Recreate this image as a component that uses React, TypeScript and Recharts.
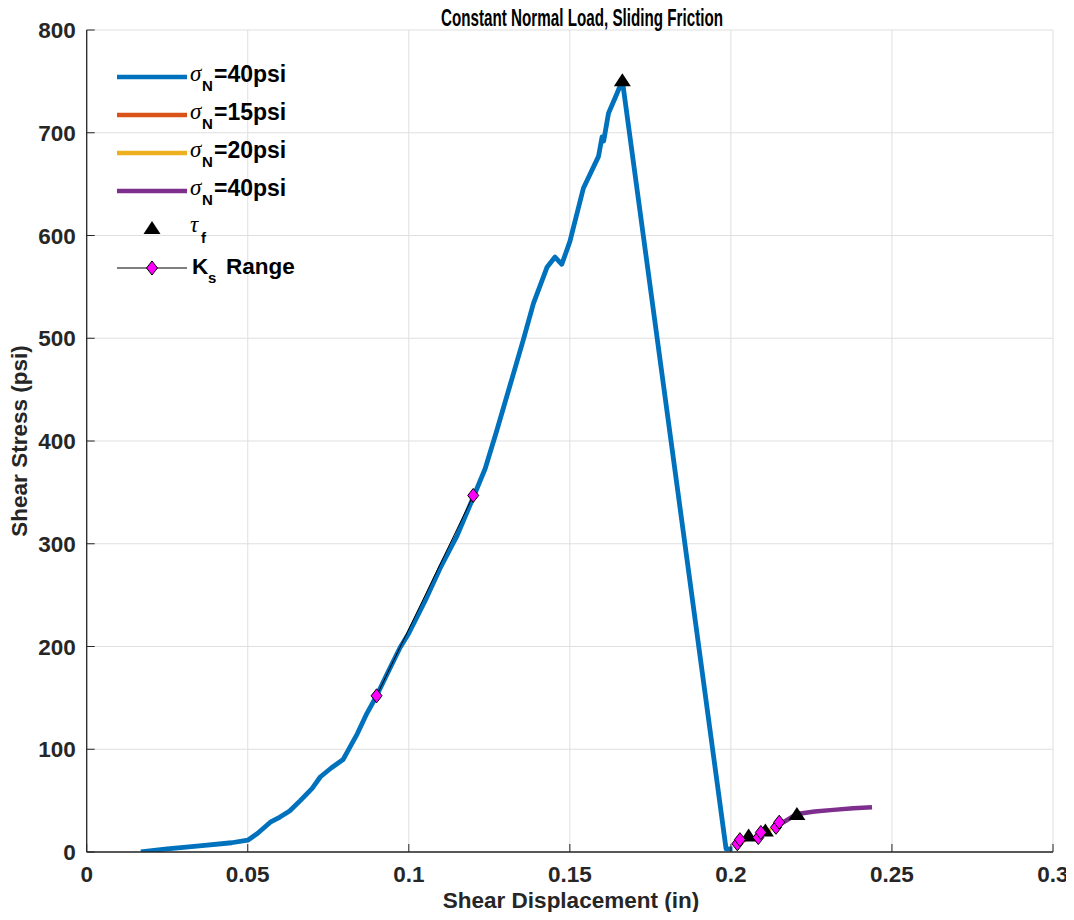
import React from 'react';
import { ComposedChart, Line, Scatter, XAxis, YAxis, CartesianGrid } from 'recharts';

const xTicks = [0, 0.05, 0.1, 0.15, 0.2, 0.25, 0.3];
const xTickLabels = ['0', '0.05', '0.1', '0.15', '0.2', '0.25', '0.3'];
const yTicks = [0, 100, 200, 300, 400, 500, 600, 700, 800];
const yTickLabels = ['0', '100', '200', '300', '400', '500', '600', '700', '800'];

const run40X = [0.0168, 0.025, 0.035, 0.045, 0.05, 0.053, 0.057, 0.06, 0.063, 0.0663, 0.07, 0.0725, 0.076, 0.0796, 0.081, 0.084, 0.087, 0.09, 0.094, 0.0973, 0.1, 0.105, 0.11, 0.115, 0.12, 0.1237, 0.1273, 0.1315, 0.1355, 0.1387, 0.1429, 0.1454, 0.1475, 0.15, 0.1542, 0.1589, 0.16, 0.1605, 0.162, 0.1646, 0.1663, 0.1985, 0.2005];
const run40Y = [0, 3, 6, 9, 11.5, 18, 29, 34, 40, 50, 62, 73, 82, 90, 98, 115, 135, 152, 178, 199, 213, 244, 278, 308, 345, 373, 410, 455, 498, 534, 569, 579, 572, 594, 646, 677, 696, 692, 719, 738, 751, 3, 3];

const run15X = [0.2015, 0.2035, 0.2055];
const run15Y = [5, 10, 16];
const run20X = [0.208, 0.2095, 0.2107, 0.2125];
const run20Y = [12, 17, 21, 21];
const run40bX = [0.2135, 0.2163, 0.2205, 0.226, 0.2318, 0.238, 0.2438];
const run40bY = [23, 29, 37, 39.5, 41, 42.5, 43.6];

const tauX = [0.1663, 0.2055, 0.2107, 0.2205];
const tauY = [751, 16, 21, 37];

const ksStartX = [0.09, 0.202, 0.2085, 0.214];
const ksStartY = [152, 8, 14, 24];
const ksEndX = [0.12, 0.2028, 0.2093, 0.215];
const ksEndY = [347, 12, 19, 29];

const BLUE = '#0072BD';
const ORANGE = '#D95319';
const YELLOW = '#EDB120';
const PURPLE = '#7E2F8E';
const AXIS = '#262626';
const GRID = '#dfdfdf';
const FONT = '"Liberation Sans", Arial, sans-serif';
const SERIF = '"Liberation Serif", "Times New Roman", serif';
const TICK_FS = 22.5;

const toPts = (xs: number[], ys: number[]) => xs.map((x, i) => ({ x, y: ys[i] }));
const run40 = toPts(run40X, run40Y);
const run15 = toPts(run15X, run15Y);
const run20 = toPts(run20X, run20Y);
const run40b = toPts(run40bX, run40bY);
const tau = toPts(tauX, tauY);
const ksPairs = ksStartX.map((x, i) => [{ x, y: ksStartY[i] }, { x: ksEndX[i], y: ksEndY[i] }]);

const BottomTick = (p: any) => {
  const idx = xTicks.indexOf(p.payload.value);
  return (
    <g>
      <line x1={p.x} y1={p.y} x2={p.x} y2={p.y - 8} stroke={AXIS} strokeWidth={1} />
      <text x={p.x} y={p.y + 30} textAnchor="middle" fontFamily={FONT} fontWeight="bold" fontSize={TICK_FS} fill={AXIS}>
        {xTickLabels[idx]}
      </text>
    </g>
  );
};
const TopTick = (p: any) => (
  <line x1={p.x} y1={p.y} x2={p.x} y2={p.y + 8} stroke={AXIS} strokeWidth={1} />
);
const LeftTick = (p: any) => {
  const idx = yTicks.indexOf(p.payload.value);
  return (
    <g>
      <line x1={p.x} y1={p.y} x2={p.x + 8} y2={p.y} stroke={AXIS} strokeWidth={1} />
      <text x={p.x - 11} y={p.y + 8} textAnchor="end" fontFamily={FONT} fontWeight="bold" fontSize={TICK_FS} fill={AXIS}>
        {yTickLabels[idx]}
      </text>
    </g>
  );
};
const RightTick = (p: any) => (
  <line x1={p.x} y1={p.y} x2={p.x - 8} y2={p.y} stroke={AXIS} strokeWidth={1} />
);

const Triangle = (p: any) => {
  const { cx, cy } = p;
  if (cx == null || cy == null) return <g />;
  return <polygon points={`${cx},${cy - 7} ${cx + 8.5},${cy + 6} ${cx - 8.5},${cy + 6}`} fill="#000" />;
};
const Diamond = (p: any) => {
  const { cx, cy, key } = p;
  if (cx == null || cy == null) return <g key={key} />;
  return (
    <polygon key={key} points={`${cx},${cy - 7} ${cx + 5.5},${cy} ${cx},${cy + 7} ${cx - 5.5},${cy}`} fill="#FF00FF" stroke="#000" strokeWidth={1} />
  );
};

const legendRows = [
  { color: BLUE, label: '=40psi' },
  { color: ORANGE, label: '=15psi' },
  { color: YELLOW, label: '=20psi' },
  { color: PURPLE, label: '=40psi' },
];
const legendRowY = [77, 115, 153, 191];

export default function App() {
  return (
    <div style={{ position: 'relative', width: 1074, height: 920, margin: -8, background: '#fff' }}>
      <ComposedChart width={1074} height={920} margin={{ top: 30, right: 21, bottom: 0, left: 0 }}>
        <CartesianGrid stroke={GRID} strokeWidth={1} />
        <XAxis dataKey="x" type="number" domain={[0, 0.3]} ticks={xTicks} interval={0} height={68} tickSize={0} tickMargin={0}
          axisLine={{ stroke: AXIS, strokeWidth: 1.3 }} tickLine={false} tick={BottomTick} allowDataOverflow />
        <XAxis xAxisId="top" orientation="top" dataKey="x" type="number" domain={[0, 0.3]} ticks={xTicks} interval={0} height={0}
          tickSize={0} tickMargin={0} axisLine={{ stroke: AXIS, strokeWidth: 1.3 }} tickLine={false} tick={TopTick} allowDataOverflow />
        <YAxis type="number" domain={[0, 800]} ticks={yTicks} interval={0} width={86.7} tickSize={0} tickMargin={0}
          axisLine={{ stroke: AXIS, strokeWidth: 1.3 }} tickLine={false} tick={LeftTick} allowDataOverflow />
        <YAxis yAxisId="right" orientation="right" type="number" domain={[0, 800]} ticks={yTicks} interval={0} width={0}
          tickSize={0} tickMargin={0} axisLine={{ stroke: AXIS, strokeWidth: 1.3 }} tickLine={false} tick={RightTick} allowDataOverflow />
        <Line data={run40} dataKey="y" stroke={BLUE} strokeWidth={4.8} dot={false} isAnimationActive={false} strokeLinejoin="round" legendType="none" />
        <Line data={run15} dataKey="y" stroke={ORANGE} strokeWidth={4.5} dot={false} isAnimationActive={false} strokeLinejoin="round" legendType="none" />
        <Line data={run20} dataKey="y" stroke={YELLOW} strokeWidth={4.5} dot={false} isAnimationActive={false} strokeLinejoin="round" legendType="none" />
        <Line data={run40b} dataKey="y" stroke={PURPLE} strokeWidth={4.5} dot={false} isAnimationActive={false} strokeLinejoin="round" legendType="none" />
        <Scatter data={tau} dataKey="y" shape={Triangle} isAnimationActive={false} legendType="none" />
        {ksPairs.map((pair, i) => (
          <Line key={'ks' + i} data={pair} dataKey="y" stroke="#000" strokeWidth={1} dot={Diamond} isAnimationActive={false} legendType="none" />
        ))}
      </ComposedChart>
      <svg width={1074} height={920} style={{ position: 'absolute', left: 0, top: 0, pointerEvents: 'none' }}>
        <text x={582} y={26} textAnchor="middle" fontFamily={FONT} fontWeight="bold" fontSize={24} fill="#000" textLength={282} lengthAdjust="spacingAndGlyphs">
          Constant Normal Load, Sliding Friction
        </text>
        <text x={571} y={908} textAnchor="middle" fontFamily={FONT} fontWeight="bold" fontSize={22.5} fill={AXIS}>
          Shear Displacement (in)
        </text>
        <text x={0} y={0} transform="translate(27,441) rotate(-90)" textAnchor="middle" fontFamily={FONT} fontWeight="bold" fontSize={22.5} fill={AXIS}>
          Shear Stress (psi)
        </text>
        {legendRows.map((r, i) => (
          <g key={i}>
            <line x1={117} x2={187} y1={legendRowY[i]} y2={legendRowY[i]} stroke={r.color} strokeWidth={4.5} />
            <text x={190} y={legendRowY[i] + 4} fontFamily={SERIF} fontStyle="italic" fontSize={23} fill="#000">σ</text>
            <text x={202} y={legendRowY[i] + 14} fontFamily={FONT} fontWeight="bold" fontSize={15} fill="#000">N</text>
            <text x={214} y={legendRowY[i] + 5} fontFamily={FONT} fontWeight="bold" fontSize={23} fill="#000">{r.label}</text>
          </g>
        ))}
        <polygon points="152,221 160.5,234 143.5,234" fill="#000" />
        <text x={190} y={232} fontFamily={SERIF} fontStyle="italic" fontSize={23} fill="#000">τ</text>
        <text x={201} y={243} fontFamily={FONT} fontWeight="bold" fontSize={15} fill="#000">f</text>
        <line x1={117} x2={187} y1={268} y2={268} stroke="#000" strokeWidth={1} />
        <polygon points="152,261 157.5,268 152,275 146.5,268" fill="#FF00FF" stroke="#000" strokeWidth={1} />
        <text x={192} y={274} fontFamily={FONT} fontWeight="bold" fontSize={22.5} fill="#000">K</text>
        <text x={208} y={283} fontFamily={FONT} fontWeight="bold" fontSize={15} fill="#000">s</text>
        <text x={226} y={274} fontFamily={FONT} fontWeight="bold" fontSize={22.5} fill="#000">Range</text>
      </svg>
    </div>
  );
}
